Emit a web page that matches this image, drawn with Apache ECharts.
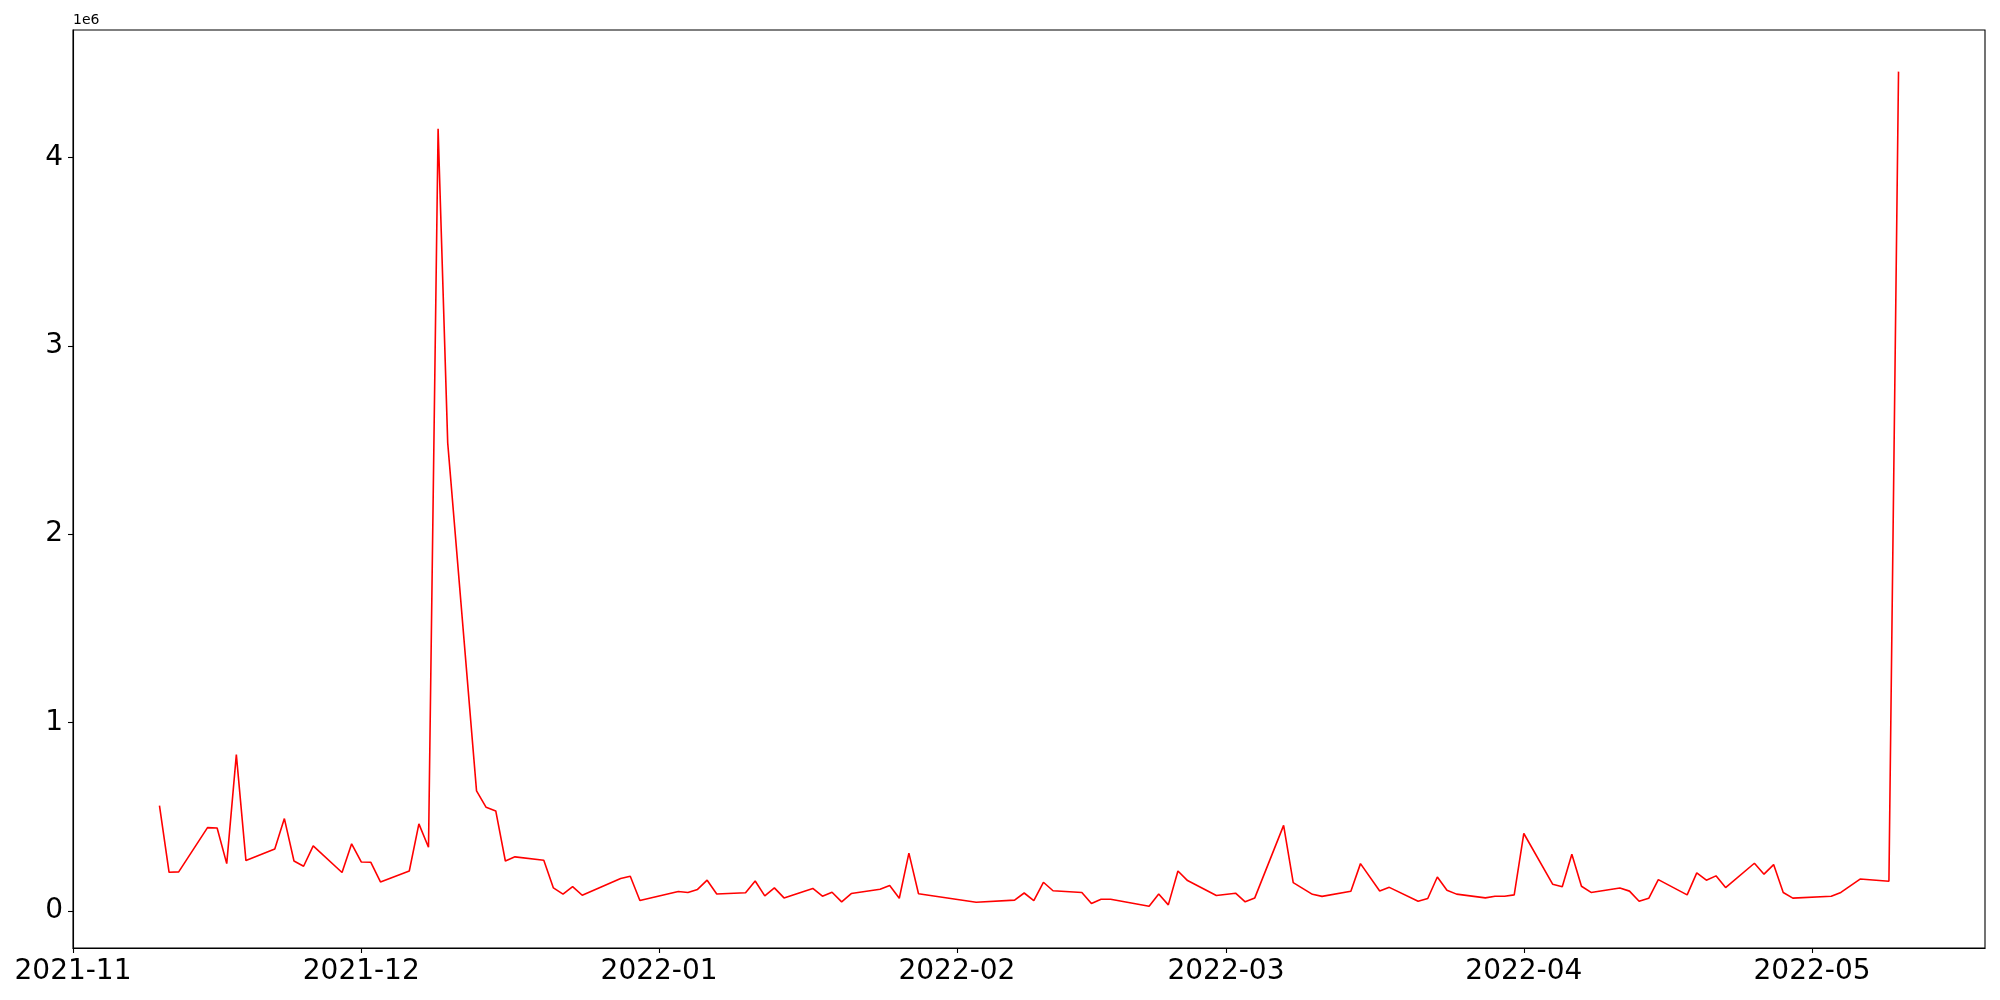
<!DOCTYPE html>
<html>
<head>
<meta charset="utf-8">
<script src="https://cdn.jsdelivr.net/npm/echarts@6/dist/echarts.min.js"></script>
<style>
html,body{margin:0;padding:0;background:#fff;}
#chart{width:2000px;height:1000px;}
</style>
</head>
<body>
<div id="chart"></div>
<script>
const dates = [
'2021-11-10','2021-11-11','2021-11-12','2021-11-15','2021-11-16','2021-11-17','2021-11-18','2021-11-19',
'2021-11-22','2021-11-23','2021-11-24','2021-11-25','2021-11-26','2021-11-29','2021-11-30',
'2021-12-01','2021-12-02','2021-12-03','2021-12-06','2021-12-07','2021-12-08','2021-12-09','2021-12-10',
'2021-12-13','2021-12-14','2021-12-15','2021-12-16','2021-12-17','2021-12-20','2021-12-21','2021-12-22',
'2021-12-23','2021-12-24','2021-12-28','2021-12-29','2021-12-30',
'2022-01-03','2022-01-04','2022-01-05','2022-01-06','2022-01-07','2022-01-10','2022-01-11','2022-01-12',
'2022-01-13','2022-01-14','2022-01-17','2022-01-18','2022-01-19','2022-01-20','2022-01-21','2022-01-24',
'2022-01-25','2022-01-26','2022-01-27','2022-01-28',
'2022-02-03','2022-02-07','2022-02-08','2022-02-09','2022-02-10','2022-02-11','2022-02-14','2022-02-15',
'2022-02-16','2022-02-17','2022-02-21','2022-02-22','2022-02-23','2022-02-24','2022-02-25','2022-02-28',
'2022-03-02','2022-03-03','2022-03-04','2022-03-07','2022-03-08','2022-03-10','2022-03-11','2022-03-14',
'2022-03-15','2022-03-17','2022-03-18','2022-03-21','2022-03-22','2022-03-23','2022-03-24','2022-03-25',
'2022-03-28','2022-03-29','2022-03-30','2022-03-31',
'2022-04-01','2022-04-04','2022-04-05','2022-04-06','2022-04-07','2022-04-08','2022-04-11','2022-04-12',
'2022-04-13','2022-04-14','2022-04-15','2022-04-18','2022-04-19','2022-04-20','2022-04-21','2022-04-22',
'2022-04-25','2022-04-26','2022-04-27','2022-04-28','2022-04-29',
'2022-05-03','2022-05-04','2022-05-06','2022-05-09','2022-05-10'
];
const values = [
559000,205000,207000,442000,440000,251000,830000,267000,
329000,490000,265000,237000,345000,204000,356000,
260000,258000,154000,212000,462000,338000,4152000,2485000,
637000,550000,531000,265000,287000,269000,122000,89000,
129000,83000,172000,184000,55000,
103000,98000,114000,163000,90000,96000,159000,80000,
122000,69000,119000,78000,99000,48000,92000,115000,
135000,67000,307000,91000,
46000,57000,95000,55000,152000,107000,98000,39000,
62000,62000,25000,90000,32000,212000,161000,82000,
94000,48000,69000,454000,150000,88000,77000,104000,
251000,106000,125000,51000,66000,180000,110000,89000,
69000,78000,78000,85000,
411000,142000,128000,301000,131000,98000,122000,105000,
51000,67000,166000,85000,202000,163000,186000,124000,
253000,195000,246000,98000,68000,
78000,98000,169000,157000,4456000
];
const xTickLabels = ['2021-11','2021-12','2022-01','2022-02','2022-03','2022-04','2022-05'];
const yTickValues = [0,1000000,2000000,3000000,4000000];
const xRange = ['2021-11-01','2022-05-19'];
const yRange = [-197000, 4677000];

function t(s){ const p = s.split('-').map(Number); return Date.UTC(p[0], p[1]-1, p[2] || 1); }
const seriesData = dates.map((d,i)=>[t(d), values[i]]);
const xTicks = xTickLabels.map(s=>t(s));
const font = 'DejaVu Sans';

const chart = echarts.init(document.getElementById('chart'), null, {renderer:'canvas'});
chart.setOption({
  animation:false,
  backgroundColor:'#ffffff',
  grid:{left:73, right:15, top:30, bottom:52, show:true, borderColor:'#000', borderWidth:1.1, outerBoundsMode:'none', containLabel:false},
  xAxis:{
    type:'value',
    min:t(xRange[0]), max:t(xRange[1]),
    axisLine:{show:true, onZero:false, lineStyle:{color:'#000', width:1.1}},
    axisTick:{show:true, inside:false, length:5, lineStyle:{color:'#000', width:1.1}, customValues:xTicks},
    axisLabel:{show:true, customValues:xTicks, margin:10, color:'#000', fontSize:28, fontFamily:font,
      formatter:function(v){ const d=new Date(v); return d.getUTCFullYear()+'-'+String(d.getUTCMonth()+1).padStart(2,'0'); }},
    splitLine:{show:false}
  },
  yAxis:{
    type:'value',
    min:yRange[0], max:yRange[1],
    axisLine:{show:true, lineStyle:{color:'#000', width:1.1}},
    axisTick:{show:true, inside:false, length:5, lineStyle:{color:'#000', width:1.1}, customValues:yTickValues},
    axisLabel:{show:true, customValues:yTickValues, margin:10, color:'#000', fontSize:28, fontFamily:font,
      formatter:function(v){ return String(Math.round(v/1e6)); }},
    splitLine:{show:false}
  },
  graphic:[{type:'text', left:73, top:13, style:{text:'1e6', fontSize:14, fontFamily:font, fill:'#000'}}],
  series:[{
    type:'line',
    data:seriesData,
    showSymbol:false,
    symbol:'none',
    lineStyle:{color:'#ff0000', width:1.6},
    itemStyle:{color:'#ff0000'}
  }]
});
</script>
</body>
</html>
